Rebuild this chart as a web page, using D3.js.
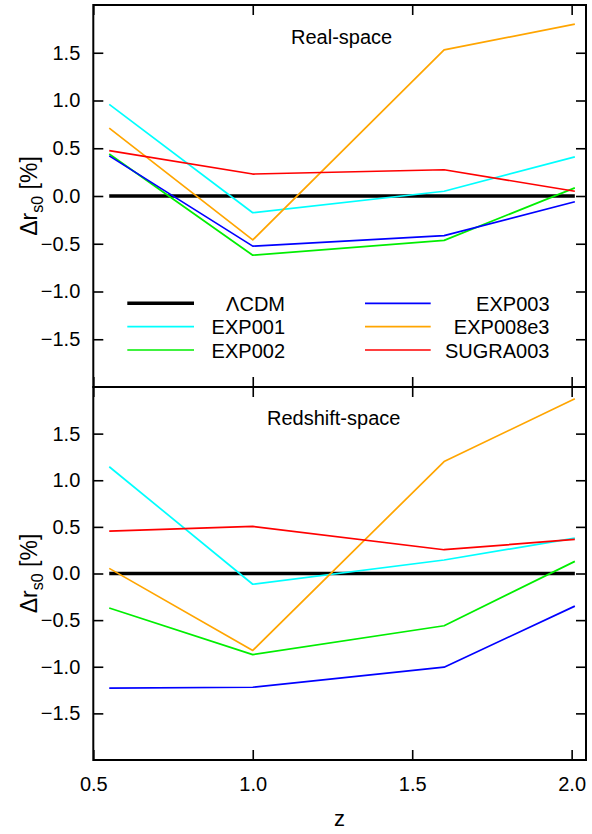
<!DOCTYPE html>
<html>
<head>
<meta charset="utf-8">
<script src="https://cdn.jsdelivr.net/npm/d3@7"></script>
<style>
  html, body { margin: 0; padding: 0; background: #fff; }
  svg { display: block; font-family: "Liberation Sans", Arial, Helvetica, sans-serif; }
</style>
</head>
<body>
<svg id="chart" width="592" height="834"></svg>
<script>
// Redshift sampling points
const redshifts = [0.55, 1.0, 1.6, 2.01];

// Series names and colours
const seriesNames = ["EXP001", "EXP002", "EXP003", "EXP008e3", "SUGRA003"];
const seriesColors = ["#00ffff", "#00ee00", "#0000ff", "#ffa500", "#ff0000"];

// Real-space Δr_s0 [%]
const realEXP001   = [0.96, -0.175, 0.05, 0.41];
const realEXP002   = [0.44, -0.62, -0.465, 0.085];
const realEXP003   = [0.42, -0.525, -0.415, -0.06];
const realEXP008e3 = [0.71, -0.46, 1.53, 1.80];
const realSUGRA003 = [0.475, 0.23, 0.275, 0.05];

// Redshift-space Δr_s0 [%]
const zsEXP001   = [1.145, -0.115, 0.145, 0.38];
const zsEXP002   = [-0.37, -0.87, -0.56, 0.13];
const zsEXP003   = [-1.23, -1.22, -1.005, -0.35];
const zsEXP008e3 = [0.055, -0.825, 1.2, 1.875];
const zsSUGRA003 = [0.455, 0.505, 0.255, 0.365];

// ΛCDM reference
const lcdm = [0, 0, 0, 0];

// Axis ticks
const yTicks = [-1.5, -1.0, -0.5, 0.0, 0.5, 1.0, 1.5];
const xTicks = [0.5, 1.0, 1.5, 2.0];

const panels = [
  { title: "Real-space", series: [realEXP001, realEXP002, realEXP003, realEXP008e3, realSUGRA003],
    top: 5, bottom: 387, titleX: 291, titleY: 43.5, legend: true, xLabels: false },
  { title: "Redshift-space", series: [zsEXP001, zsEXP002, zsEXP003, zsEXP008e3, zsSUGRA003],
    top: 387, bottom: 760, titleX: 267, titleY: 424.5, legend: false, xLabels: true }
];

const left = 93.3, right = 586;
const svg = d3.select("#chart");

const x = d3.scaleLinear().domain([0.5, 2.045]).range([left, right]);

const fmt = d3.format(".1f");

panels.forEach(p => {
  const y = d3.scaleLinear().domain([-2, 2]).range([p.bottom, p.top]);
  const g = svg.append("g");

  // Left axis with labels, inward ticks
  const ayL = g.append("g").attr("transform", `translate(${left},0)`)
    .call(d3.axisLeft(y).tickValues(yTicks).tickSizeInner(-10).tickSizeOuter(0).tickPadding(13).tickFormat(fmt));
  // Right axis ticks
  const ayR = g.append("g").attr("transform", `translate(${right},0)`)
    .call(d3.axisRight(y).tickValues(yTicks).tickSizeInner(-10).tickSizeOuter(0).tickFormat(""));
  // Top and bottom ticks
  const axT = g.append("g").attr("transform", `translate(0,${p.top})`)
    .call(d3.axisTop(x).tickValues(xTicks).tickSizeInner(-10).tickSizeOuter(0).tickFormat(""));
  const axB = g.append("g").attr("transform", `translate(0,${p.bottom})`)
    .call(d3.axisBottom(x).tickValues(xTicks).tickSizeInner(-10).tickSizeOuter(0)
      .tickPadding(16.5).tickFormat(p.xLabels ? fmt : ""));

  [ayL, ayR, axT, axB].forEach(a => {
    a.select(".domain").remove();
    a.selectAll(".tick line").attr("stroke", "#000").attr("stroke-width", 1.6);
    a.selectAll(".tick text").attr("fill", "#000").style("font-size", "20px")
      .style("font-family", "'Liberation Sans', Arial, sans-serif");
  });

  // Data lines
  const line = d3.line().x((d, i) => x(redshifts[i])).y(d => y(d));
  g.append("path").datum(lcdm).attr("d", line)
    .attr("fill", "none").attr("stroke", "#000").attr("stroke-width", 3.5);
  p.series.forEach((s, k) => {
    g.append("path").datum(s).attr("d", line)
      .attr("fill", "none").attr("stroke", seriesColors[k]).attr("stroke-width", 1.7)
      .attr("stroke-linejoin", "round");
  });

  // Frame
  g.append("rect").attr("x", left).attr("y", p.top)
    .attr("width", right - left).attr("height", p.bottom - p.top)
    .attr("fill", "none").attr("stroke", "#000").attr("stroke-width", 2);

  // Panel title
  g.append("text").attr("x", p.titleX).attr("y", p.titleY)
    .style("font-size", "20px").attr("fill", "#000").text(p.title);

  // Y axis title
  const cy = (p.top + p.bottom) / 2;
  const yt = g.append("text")
    .attr("transform", `translate(36.5,${cy}) rotate(-90)`)
    .attr("text-anchor", "middle").style("font-size", "23px").attr("fill", "#000");
  yt.append("tspan").text("Δr");
  yt.append("tspan").attr("dy", 6).style("font-size", "16px").text("s0");
  yt.append("tspan").attr("dy", -6).text(" [%]");

  // Legend
  if (p.legend) {
    const items = [{ name: "ΛCDM", color: "#000", w: 3.5 }]
      .concat(seriesNames.map((n, k) => ({ name: n, color: seriesColors[k], w: 1.7 })));
    const cols = [
      { x1: 127.3, x2: 194, tx: 285 },
      { x1: 365, x2: 430.7, tx: 549.5 }
    ];
    const rows = [303.3, 326.7, 350];
    items.forEach((it, i) => {
      const c = cols[Math.floor(i / 3)], ry = rows[i % 3];
      g.append("line").attr("x1", c.x1).attr("x2", c.x2).attr("y1", ry).attr("y2", ry)
        .attr("stroke", it.color).attr("stroke-width", it.w);
      g.append("text").attr("x", c.tx).attr("y", ry).attr("dy", "0.38em")
        .attr("text-anchor", "end").style("font-size", "20px").attr("fill", "#000").text(it.name);
    });
  }
});

// X axis title
svg.append("text").attr("x", 339.5).attr("y", 826).attr("text-anchor", "middle")
  .style("font-size", "22px").attr("fill", "#000").text("z");
</script>
</body>
</html>
